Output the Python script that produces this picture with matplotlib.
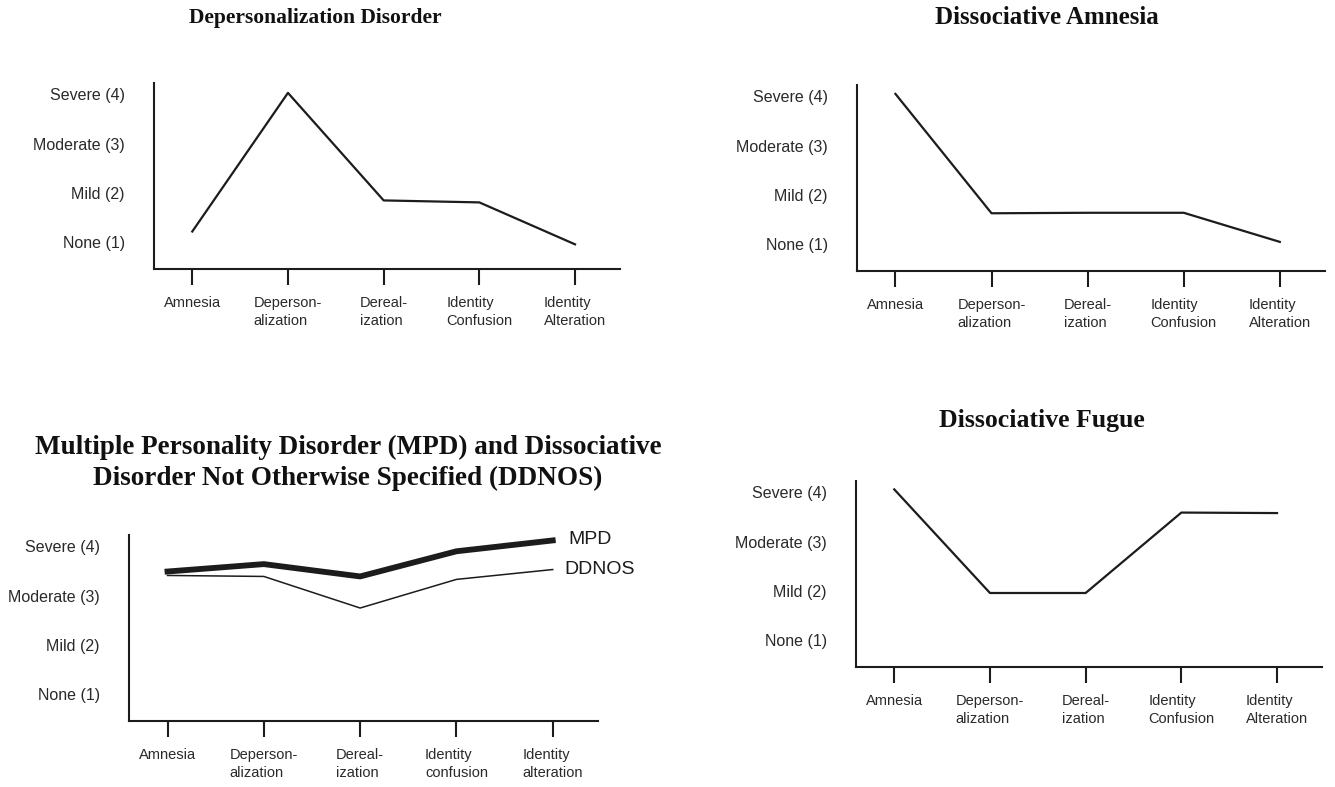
import matplotlib
matplotlib.use("Agg")
import matplotlib.pyplot as plt

# severity scale shared by all four panels
severity_levels = [1, 2, 3, 4]
severity_labels = ["None (1)", "Mild (2)", "Moderate (3)", "Severe (4)"]

symptoms = ["Amnesia", "Deperson-\nalization", "Dereal-\nization",
            "Identity\nConfusion", "Identity\nAlteration"]
symptoms_mpd = ["Amnesia", "Deperson-\nalization", "Dereal-\nization",
                "Identity\nconfusion", "Identity\nalteration"]

# profiles
depersonalization = [1.22, 4.03, 1.85, 1.81, 0.96]
amnesia = [4.05, 1.63, 1.64, 1.64, 1.05]
fugue = [4.06, 1.96, 1.96, 3.59, 3.58]
mpd = [3.49, 3.64, 3.39, 3.90, 4.12]
ddnos = [3.41, 3.39, 2.75, 3.33, 3.53]

W, H = 1335, 787
INK = "#1c1c1c"
SANS = "Liberation Sans"
SERIF = "Liberation Serif"

fig = plt.figure(figsize=(W / 100, H / 100), dpi=100)
fig.patch.set_facecolor("white")


def px_axes(left, top, right, bottom):
    return fig.add_axes([left / W, 1 - bottom / H, (right - left) / W, (bottom - top) / H])


def style(ax, labels):
    x = range(len(labels))
    ax.set_xlim(-0.4, 4.47)
    ax.set_ylim(0.46, 4.23)
    for s in ["top", "right"]:
        ax.spines[s].set_visible(False)
    for s in ["left", "bottom"]:
        ax.spines[s].set_linewidth(1.5)
        ax.spines[s].set_color(INK)
    ax.set_yticks(severity_levels)
    ax.set_yticklabels(severity_labels, fontsize=11.5, family=SANS, color="#2a2a2a")
    ax.tick_params(axis="y", length=0, pad=21)
    ax.set_xticks(list(x))
    ax.set_xticklabels(labels, fontsize=10.5, family=SANS, color="#2a2a2a",
                       multialignment="left", linespacing=1.4)
    ax.tick_params(axis="x", direction="out", length=11.5, width=1.5,
                   color=INK, pad=8)
    ax.set_facecolor("none")
    return list(x)


# top left: depersonalization disorder
ax1 = px_axes(154, 83, 620, 269)
x = style(ax1, symptoms)
ax1.plot(x, depersonalization, color=INK, lw=1.6)

# top right: dissociative amnesia
ax2 = px_axes(857, 85, 1325, 271)
x = style(ax2, symptoms)
ax2.plot(x, amnesia, color=INK, lw=1.6)

# bottom left: MPD vs DDNOS
ax3 = px_axes(129, 535, 598, 721)
x = style(ax3, symptoms_mpd)
ax3.plot(x, mpd, color=INK, lw=4.2, solid_joinstyle="round")
ax3.plot(x, ddnos, color=INK, lw=1.1)
ax3.annotate("MPD", xy=(x[-1], mpd[-1]), xytext=(16, 1), textcoords="offset pixels",
             fontsize=14, family=SANS, color=INK, va="center", ha="left")
ax3.annotate("DDNOS", xy=(x[-1], ddnos[-1]), xytext=(12, 0), textcoords="offset pixels",
             fontsize=14, family=SANS, color=INK, va="center", ha="left")

# bottom right: dissociative fugue
ax4 = px_axes(856, 481, 1322, 667)
x = style(ax4, symptoms)
ax4.plot(x, fugue, color=INK, lw=1.6)

# panel titles
title_kw = dict(family=SERIF, weight="bold", color="#111111", ha="center", va="center")
fig.text(315 / W, 1 - 18 / H, "Depersonalization Disorder", fontsize=15.5, **title_kw)
fig.text(1047 / W, 1 - 18 / H, "Dissociative Amnesia", fontsize=18, **title_kw)
fig.text(348 / W, 1 - 463 / H,
         "Multiple Personality Disorder (MPD) and Dissociative\n"
         "Disorder Not Otherwise Specified (DDNOS)",
         fontsize=19.5, linespacing=1.3, **title_kw)
fig.text(1042 / W, 1 - 420 / H, "Dissociative Fugue", fontsize=18.5, **title_kw)

fig.savefig("out.png", dpi=100, facecolor="white")
